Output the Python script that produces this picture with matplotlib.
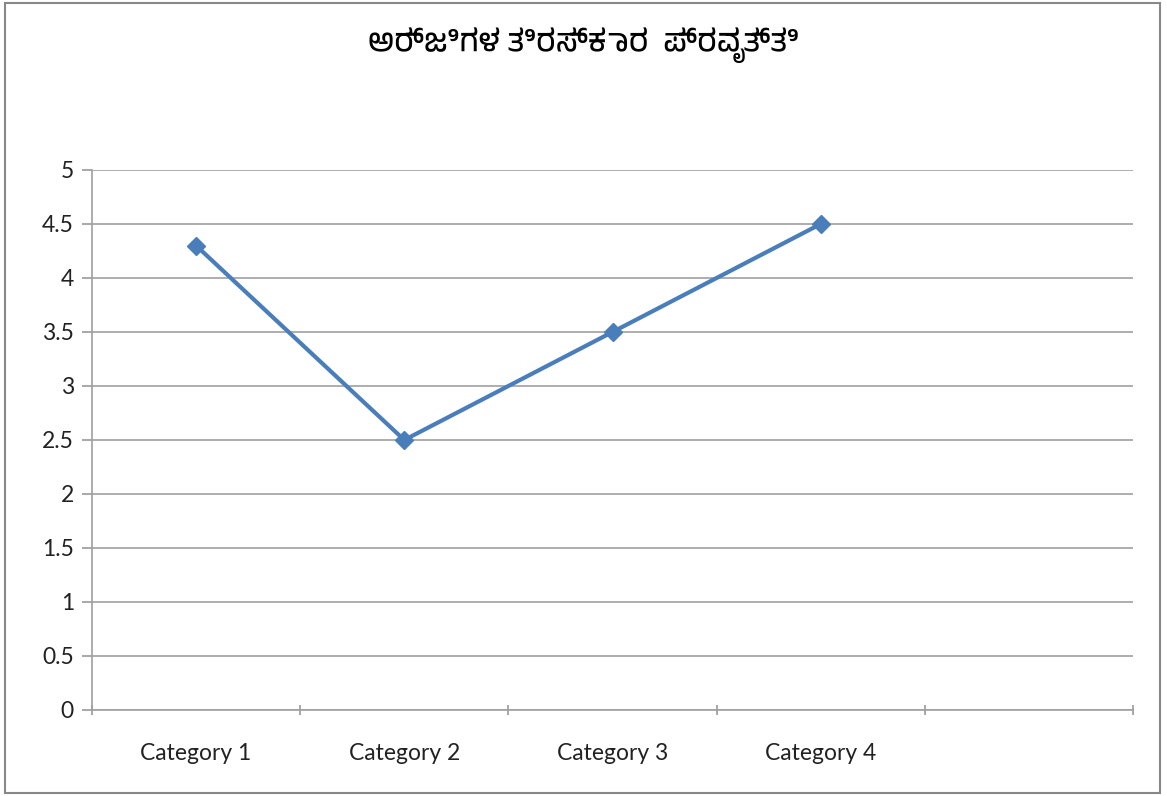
import matplotlib

matplotlib.use("Agg")
import matplotlib.pyplot as plt
from matplotlib import font_manager
from matplotlib.patches import Rectangle
from matplotlib.ticker import FixedLocator, NullFormatter

TITLE = "ಅರ್ಜಿಗಳ ತಿರಸ್ಕಾರ  ಪ್ರವೃತ್ತಿ"
categories = ["Category 1", "Category 2", "Category 3", "Category 4", ""]
values = [4.3, 2.5, 3.5, 4.5]
yticks = [0, 0.5, 1, 1.5, 2, 2.5, 3, 3.5, 4, 4.5, 5]

# pick a Kannada-capable font if the machine has one
kannada = [f.name for f in font_manager.fontManager.ttflist
           if "kannada" in f.name.lower() or "tunga" in f.name.lower()]
title_fonts = kannada[:1] + ["Noto Sans", "DejaVu Sans"]

plt.rcParams["font.family"] = ["Lato", "DejaVu Sans"]

fig = plt.figure(figsize=(11.67, 7.96), dpi=100)
ax = fig.add_axes([92 / 1167, 1 - 710 / 796, (1133 - 92) / 1167, (710 - 170) / 796])

xs = list(range(1, len(values) + 1))
ax.plot(xs, values, color="#4a7ebb", lw=3.0, marker="D", ms=9,
        markerfacecolor="#4a7ebb", markeredgecolor="#4a7ebb", zorder=3)

ax.set_xlim(0.5, len(categories) + 0.5)
ax.set_ylim(0, 5)
ax.set_yticks(yticks)
ax.set_yticklabels([f"{t:g}" for t in yticks])
ax.set_xticks(range(1, len(categories) + 1))
ax.set_xticklabels(categories)
ax.xaxis.set_minor_locator(FixedLocator([i + 0.5 for i in range(len(categories) + 1)]))
ax.xaxis.set_minor_formatter(NullFormatter())
ax.tick_params(axis="x", which="major", length=0, pad=24, labelsize=16.5, colors="#222222")
ax.tick_params(axis="x", which="minor", length=7, width=1.2, color="#999999",
               direction="inout")
ax.tick_params(axis="y", length=7, width=1.2, color="#999999", labelsize=16.5,
               labelcolor="#222222", pad=6)

ax.grid(axis="y", color="#a0a0a0", lw=1.2)
ax.set_axisbelow(True)
for s in ("top", "right"):
    ax.spines[s].set_visible(False)
ax.spines["left"].set_color("#a0a0a0")
ax.spines["bottom"].set_color("#a0a0a0")
ax.spines["left"].set_linewidth(1.2)
ax.spines["bottom"].set_linewidth(1.2)

fig.text(0.5, 1 - 45 / 796, TITLE, ha="center", va="center", fontsize=22,
         fontweight="bold", family=title_fonts)

fig.patches.append(Rectangle((5 / 1167, 3 / 796), 1155 / 1167, 790 / 796,
                             transform=fig.transFigure, fill=False,
                             edgecolor="#888888", lw=1.5))

fig.savefig("out.png", dpi=100)
